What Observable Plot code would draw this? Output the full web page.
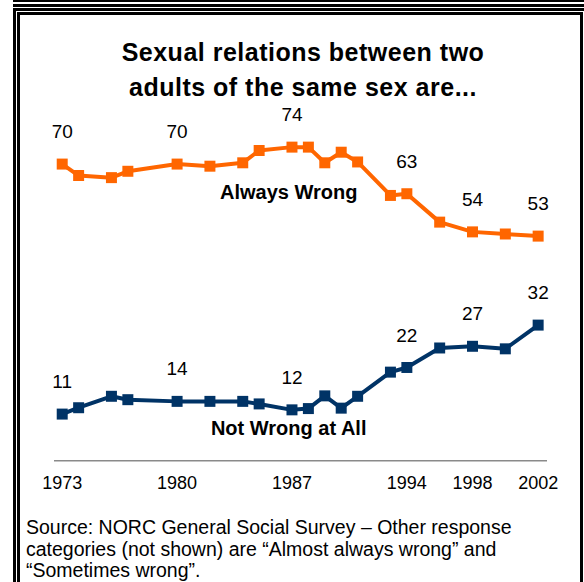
<!DOCTYPE html>
<html><head><meta charset="utf-8">
<script src="https://cdn.jsdelivr.net/npm/d3@7"></script>
<script src="https://cdn.jsdelivr.net/npm/@observablehq/plot@0.6"></script>
<style>
html,body{margin:0;padding:0;background:#fff;}
body{width:584px;height:582px;overflow:hidden;position:relative;font-family:"Liberation Sans",Arial,sans-serif;color:#000;}
#chart{position:absolute;left:0;top:100px;}
#title{position:absolute;left:22px;width:562px;top:35px;text-align:center;font-weight:bold;font-size:25px;letter-spacing:0.5px;line-height:35px;}
#caption{position:absolute;left:26px;top:517px;font-size:19.5px;line-height:21.5px;white-space:nowrap;}
.ln{position:absolute;box-sizing:border-box;border-color:#000;border-style:solid;border-width:0;}
</style></head><body>
<div id="chart"></div>
<div id="title">Sexual relations between two<br>adults of the same sex are...</div>
<div id="caption">Source: NORC General Social Survey – Other response<br>categories (not shown) are “Almost always wrong” and<br>“Sometimes wrong”.</div>
<div class="ln" style="left:13px;top:0;width:571px;height:2px;background:#000"></div>
<div class="ln" style="left:13px;top:4px;width:571px;height:3px;background:#000"></div>
<div class="ln" style="left:13px;top:8px;width:600px;height:600px;border-left-width:3px;border-top-width:3px"></div>
<div class="ln" style="left:17px;top:12px;width:566px;height:600px;border-left-width:3px;border-top-width:3px;border-right-width:3px"></div>
<script>
const years = [1973,1974,1976,1977,1980,1982,1984,1985,1987,1988,1989,1990,1991,1993,1994,1996,1998,2000,2002];
const alwaysWrong = [70,67.3,66.8,68.3,70,69.5,70.3,73.2,74,74,70.3,72.8,70.5,62.6,63,56.3,54,53.5,53];
const notWrongAtAll = [11,12.5,15.2,14.4,14,14,14,13.4,12,12.3,15.3,12.4,15.2,20.9,22,26.6,27,26.4,32];
const labelYears = [1973,1980,1987,1994,1998,2002];
const seriesNames = ["Always Wrong","Not Wrong at All"];
const seriesColors = ["#FF6600","#003366"];

const rows = [];
years.forEach((yr,i)=>{
  rows.push({year:yr, series:seriesNames[0], value:alwaysWrong[i]});
  rows.push({year:yr, series:seriesNames[1], value:notWrongAtAll[i]});
});
const labelRows = rows.filter(d=>labelYears.includes(d.year));

const chart = Plot.plot({
  width:584, height:410,
  marginLeft:54, marginRight:37, marginTop:21.2, marginBottom:49.8,
  style:{background:"transparent", fontFamily:"'Liberation Sans', Arial, sans-serif", color:"#000"},
  x:{domain:[1972.53,2002.57], axis:null},
  y:{domain:[0,80], axis:null},
  color:{domain:seriesNames, range:seriesColors},
  marks:[
    Plot.ruleY([0], {stroke:"#8a8a8a", strokeWidth:1.6}),
    Plot.axisX(labelYears, {tickSize:0, tickPadding:16, tickFormat:d=>String(d), fontSize:18, fill:"#000", label:null}),
    Plot.line(rows, {x:"year", y:"value", z:"series", stroke:"series", strokeWidth:4, strokeLinejoin:"miter"}),
    Plot.dot(rows, {x:"year", y:"value", fill:"series", symbol:"square", r:6.2, stroke:null}),
    Plot.text(labelRows, {x:"year", y:"value", text:d=>d3.format("d")(d.value), dy:-32, fontSize:19, fill:"#000"}),
    Plot.text([seriesNames[0]], {x:()=>1986.8, y:()=>63.3, text:d=>d, fontSize:20, fontWeight:"bold", fill:"#000"}),
    Plot.text([seriesNames[1]], {x:()=>1986.8, y:()=>7.6, text:d=>d, fontSize:20, fontWeight:"bold", fill:"#000"})
  ]
});
document.getElementById("chart").appendChild(chart);
</script>
</body></html>
